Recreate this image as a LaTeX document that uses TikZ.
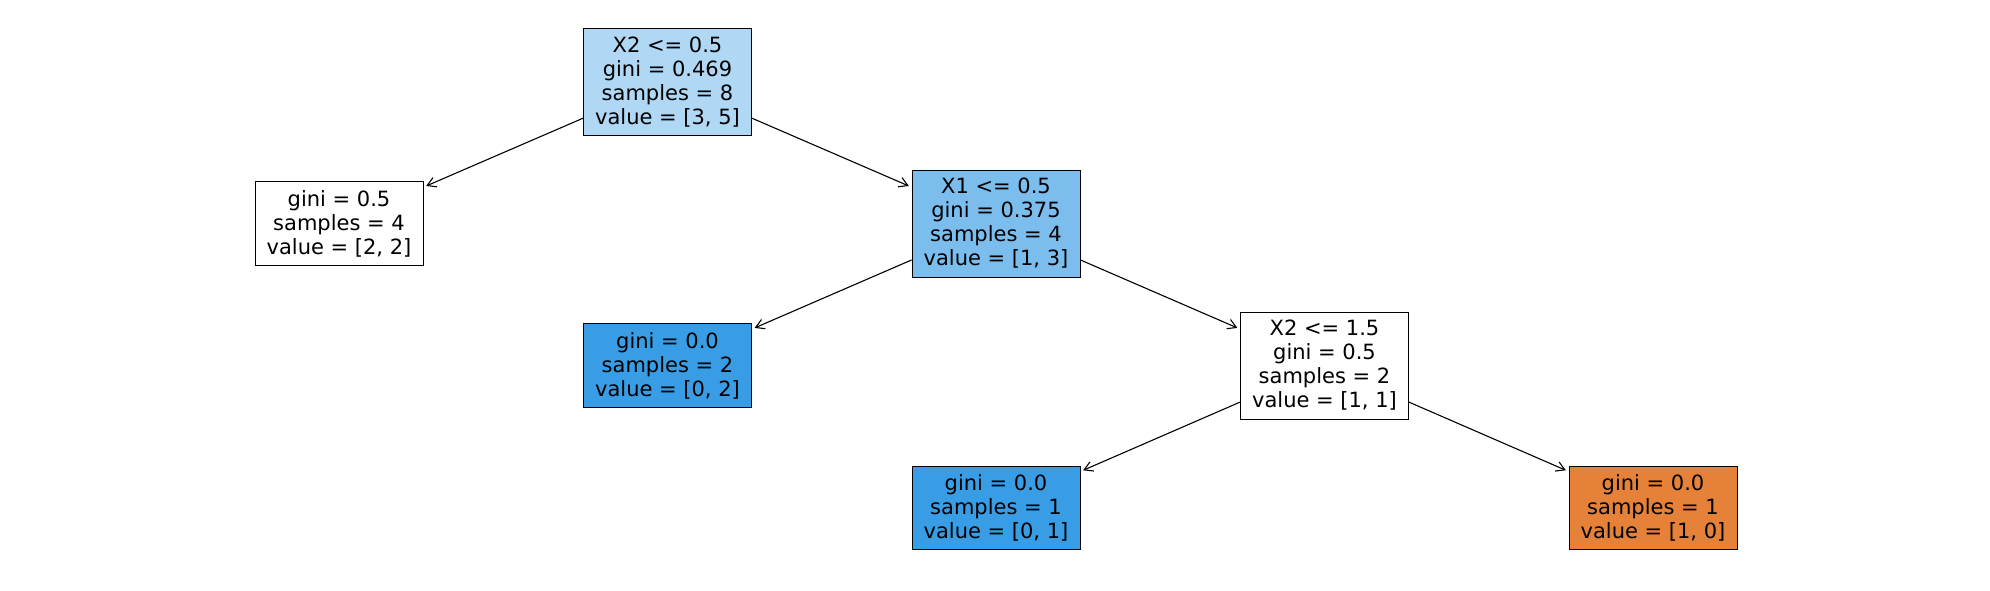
\documentclass[tikz,border=0pt]{standalone}
\usepackage{fontspec}
\setmainfont{DejaVu Sans}
\usetikzlibrary{arrows.meta}
\definecolor{rootc}{RGB}{176,216,245}
\definecolor{midc}{RGB}{123,190,238}
\definecolor{bluec}{RGB}{57,157,229}
\definecolor{orangec}{RGB}{229,129,57}
\tikzset{
  treebox/.style={draw=black, line width=0.8pt, align=center, inner sep=0pt,
    minimum width=168pt, font=\fontsize{21}{24}\selectfont},
  splitbox/.style={treebox, minimum height=107pt},
  leafbox/.style={treebox, minimum height=83.3pt},
  edge/.style={line width=1.1pt, -{Straight Barb[length=8.5pt,width=10pt,line width=1.1pt]}, shorten >=3pt}
}
\begin{document}
\begin{tikzpicture}[x=1pt,y=-1pt]
\useasboundingbox (0,0) rectangle (1990,590);
\node[splitbox, fill=rootc] (root) at (667.5,81.8) {X2 <= 0.5\\gini = 0.469\\samples = 8\\value = [3, 5]};
\node[leafbox, fill=white] (l1) at (339,223.5) {gini = 0.5\\samples = 4\\value = [2, 2]};
\node[splitbox, fill=midc] (x1) at (996,223.5) {X1 <= 0.5\\gini = 0.375\\samples = 4\\value = [1, 3]};
\node[leafbox, fill=bluec] (l2) at (667.5,365.5) {gini = 0.0\\samples = 2\\value = [0, 2]};
\node[splitbox, fill=white] (x2) at (1324.5,365.5) {X2 <= 1.5\\gini = 0.5\\samples = 2\\value = [1, 1]};
\node[leafbox, fill=bluec] (l3) at (996,508) {gini = 0.0\\samples = 1\\value = [0, 1]};
\node[leafbox, fill=orangec] (l4) at (1653,508) {gini = 0.0\\samples = 1\\value = [1, 0]};
\draw[edge] (root) -- (l1);
\draw[edge] (root) -- (x1);
\draw[edge] (x1) -- (l2);
\draw[edge] (x1) -- (x2);
\draw[edge] (x2) -- (l3);
\draw[edge] (x2) -- (l4);
\end{tikzpicture}
\end{document}
